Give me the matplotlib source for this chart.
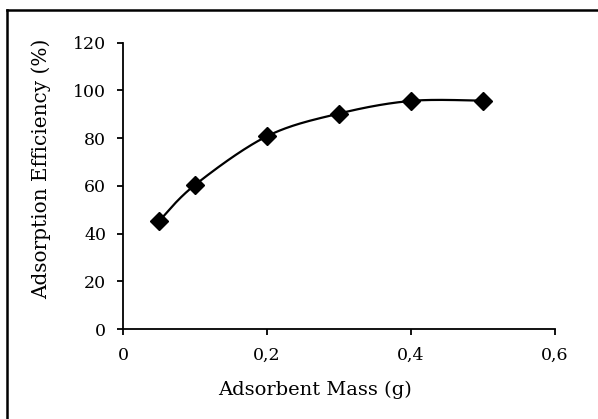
import numpy as np
import matplotlib
matplotlib.use("Agg")
import matplotlib.pyplot as plt
from matplotlib.lines import Line2D

mass = [0.05, 0.1, 0.2, 0.3, 0.4, 0.5]
efficiency = [45.2, 60.4, 80.8, 90.3, 95.6, 95.7]
xticks = [0, 0.2, 0.4, 0.6]
xticklabels = ["0", "0,2", "0,4", "0,6"]
yticks = [0, 20, 40, 60, 80, 100, 120]

plt.rcParams['font.family'] = ['DejaVu Serif']

def excel_smooth(x, y, n=40):
    x = np.asarray(x, float); y = np.asarray(y, float)
    px = np.concatenate([[x[0]], x, [x[-1]]])
    py = np.concatenate([[y[0]], y, [y[-1]]])
    xs, ys = [], []
    t = np.linspace(0, 1, n)
    for i in range(1, len(px) - 2):
        p0 = np.array([px[i], py[i]])
        p3 = np.array([px[i + 1], py[i + 1]])
        p1 = p0 + (np.array([px[i + 1], py[i + 1]]) - np.array([px[i - 1], py[i - 1]])) / 6
        p2 = p3 - (np.array([px[i + 2], py[i + 2]]) - np.array([px[i], py[i]])) / 6
        b = ((1 - t) ** 3)[:, None] * p0 + (3 * (1 - t) ** 2 * t)[:, None] * p1 \
            + (3 * (1 - t) * t ** 2)[:, None] * p2 + (t ** 3)[:, None] * p3
        xs.extend(b[:, 0]); ys.extend(b[:, 1])
    return np.array(xs), np.array(ys)

fig = plt.figure(figsize=(5.98, 4.19), dpi=100)
ax = fig.add_axes([123 / 598, 1 - 329 / 419, 432 / 598, 286.3 / 419])

sx, sy = excel_smooth(mass, efficiency)
ax.plot(sx, sy, color='black', lw=1.6, zorder=2)
ax.plot(mass, efficiency, linestyle='none', marker='D', markersize=9,
        color='black', zorder=3)

ax.set_xlim(0, 0.6)
ax.set_ylim(0, 120)
ax.set_xticks(xticks)
ax.set_xticklabels(xticklabels)
ax.set_yticks(yticks)
for s in ['top', 'right']:
    ax.spines[s].set_visible(False)
for s in ['left', 'bottom']:
    ax.spines[s].set_linewidth(1.3)
ax.tick_params(axis='both', direction='out', length=4, width=1.3, labelsize=12.5,
               colors='black')
ax.tick_params(axis='y', pad=8)
ax.tick_params(axis='x', pad=9)
ax.set_xlabel('Adsorbent Mass (g)', fontsize=14, labelpad=12, x=0.444)
ax.set_ylabel('Adsorption Efficiency (%)', fontsize=14.4, labelpad=16, y=0.559)

fig.add_artist(Line2D([7 / 598, 7 / 598], [0, 1 - 10 / 419], transform=fig.transFigure,
                      color='black', lw=1.8))
fig.add_artist(Line2D([7 / 598, 1], [1 - 10 / 419, 1 - 10 / 419], transform=fig.transFigure,
                      color='black', lw=1.8))

fig.savefig('out.png', dpi=100)
